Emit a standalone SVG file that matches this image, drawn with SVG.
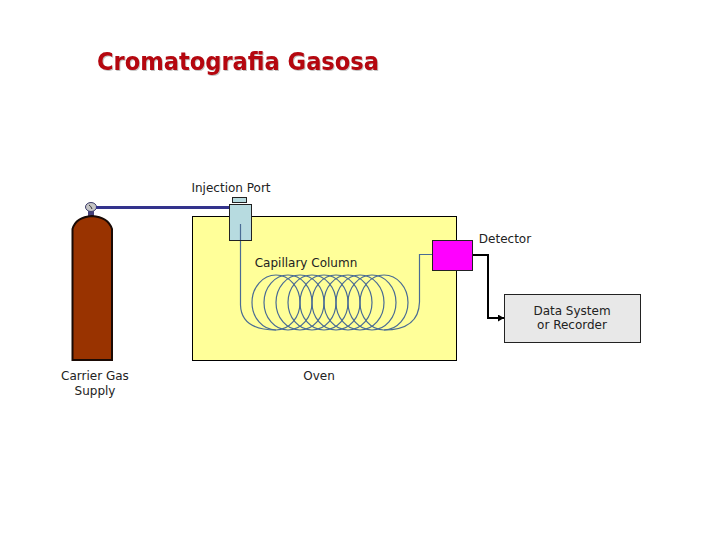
<svg xmlns="http://www.w3.org/2000/svg" width="720" height="540" viewBox="0 0 720 540">
<style>
.l{font-family:"DejaVu Sans","Liberation Sans",sans-serif;font-size:12px;fill:#222;text-anchor:middle}
.t{font-family:"DejaVu Sans","Liberation Sans",sans-serif;font-size:24px;font-weight:bold;fill:#b5070f;filter:drop-shadow(1.5px 1.5px 0.5px #c4c4c4)}
.c{fill:none;stroke:#4a6c94;stroke-width:1.200}
</style>
<defs>
<marker id="a" markerUnits="userSpaceOnUse" markerWidth="7" markerHeight="7" refX="6" refY="3.5" orient="auto"><path d="M0 0L6 3.5L0 7Z" fill="#000"/></marker>
<ellipse id="loop" cx="0" cy="0" rx="24" ry="27.500"/>
</defs>
<rect width="720" height="540" fill="#fff"/>
<text id="title" class="t" x="97" y="70" textLength="282" lengthAdjust="spacingAndGlyphs">Cromatografia Gasosa</text>
<g id="oven">
<rect x="192.500" y="216.500" width="264" height="144" fill="#ffff99" stroke="#000"/>
<text class="l" x="319" y="380">Oven</text>
</g>
<g id="cylinder">
<rect x="88" y="211" width="6" height="7" fill="#46407a"/>
<path d="M72.500 360V229Q76 217 92 216Q108 217 112 229V360Z" fill="#993300" stroke="#1a0a05" stroke-width="2"/>
<ellipse cx="91" cy="207" rx="5.500" ry="4.500" fill="#c4c4c4" stroke="#3d3d6b"/>
<path d="M89 205Q91 206 92 209" fill="none" stroke="#333"/>
<text class="l" x="95" y="380">Carrier Gas</text>
<text class="l" x="95" y="395">Supply</text>
</g>
<g id="connectors">
<path d="M96 207.500H230" fill="none" stroke="#33338c" stroke-width="3"/>
<g class="coil">
<use class="c" href="#loop" x="276" y="302.500"/>
<use class="c" href="#loop" x="288" y="302.500"/>
<use class="c" href="#loop" x="300" y="302.500"/>
<use class="c" href="#loop" x="312" y="302.500"/>
<use class="c" href="#loop" x="324" y="302.500"/>
<use class="c" href="#loop" x="336" y="302.500"/>
<use class="c" href="#loop" x="348" y="302.500"/>
<use class="c" href="#loop" x="360" y="302.500"/>
<use class="c" href="#loop" x="372" y="302.500"/>
<use class="c" href="#loop" x="384" y="302.500"/>
</g>
<path class="c" d="M240.500 224V305C241 321 252 330 276 330"/>
<path class="c" d="M384 330C408 330 419 320 419.500 302V254.500H432"/>
<path d="M472 255H488V318H504" fill="none" stroke="#000" stroke-width="2" marker-end="url(#a)"/>
</g>
<g id="injector">
<rect x="232.500" y="197.500" width="14" height="5" fill="#b7dbe0" stroke="#222"/>
<rect x="229.500" y="204.500" width="22" height="36" fill="#b7dbe0" stroke="#222"/>
<path class="c" d="M240.500 224V240"/>
<text class="l" x="231" y="192">Injection Port</text>
</g>
<g id="detector">
<rect x="432.500" y="240.500" width="40" height="30" fill="#ff00ff" stroke="#222"/>
<text class="l" x="505" y="243">Detector</text>
</g>
<text id="column-label" class="l" x="306" y="267">Capillary Column</text>
<g id="recorder">
<rect x="504.500" y="294.500" width="136" height="48" fill="#e8e8e8" stroke="#222"/>
<text class="l" x="572" y="315">Data System</text>
<text class="l" x="572" y="329">or Recorder</text>
</g>
</svg>
